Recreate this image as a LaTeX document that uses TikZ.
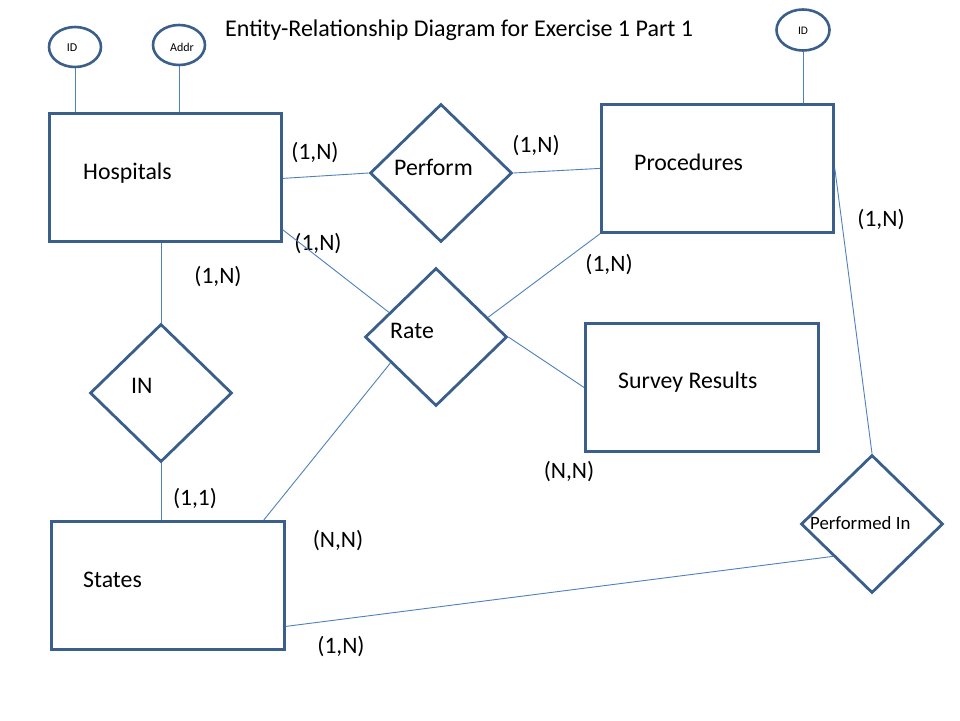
\documentclass[tikz,border=0pt]{standalone}
\usepackage{fontspec}
\setmainfont{Carlito}
\usetikzlibrary{shapes.geometric,calc}
\definecolor{outl}{HTML}{3A5F8B}
\definecolor{conn}{HTML}{4F81BD}
\tikzset{
  entity/.style={draw=outl,line width=2.8pt,rectangle,inner sep=0pt,anchor=north west},
  relation/.style={draw=outl,line width=2.8pt,diamond,inner sep=0pt,minimum width=142pt,minimum height=138pt},
  attr/.style={draw=outl,line width=2.6pt,ellipse,inner sep=0pt},
  link/.style={draw=conn,line width=0.9pt},
  lbl/.style={inner sep=0pt,font=\fontsize{23.8}{26}\selectfont},
  card/.style={inner sep=0pt,font=\fontsize{23.5}{26}\selectfont},
  small/.style={inner sep=0pt,font=\fontsize{12}{14}\selectfont},
}
\begin{document}
\begin{tikzpicture}[x=1pt,y=-1pt]
\useasboundingbox[fill=white] (0,0) rectangle (960,720);
% title
\node[inner sep=0pt,font=\fontsize{24}{27}\selectfont,anchor=base west] (title) at (225,36) {Entity-Relationship Diagram for Exercise 1 Part 1};
% entities
\node[entity,minimum width=232pt,minimum height=128pt] (hosp) at (48,112) {};
\node[entity,minimum width=232pt,minimum height=128pt] (proc) at (600,103) {};
\node[entity,minimum width=233pt,minimum height=128pt] (surv) at (584,322) {};
\node[entity,minimum width=233pt,minimum height=128pt] (stat) at (50,520) {};
% relationships
\node[relation] (perf) at (441,173) {};
\node[relation] (rate) at (436,337) {};
\node[relation] (inrel) at (161,393) {};
\node[relation] (pin) at (872,524) {};
% attributes
\node[attr,minimum width=52pt,minimum height=40pt] (id1) at (75,47) {};
\node[attr,minimum width=52pt,minimum height=40pt] (addr) at (179,45) {};
\node[attr,minimum width=53pt,minimum height=41pt] (id2) at (803,30) {};
% texts
\node[lbl,anchor=base west] (hospT) at (83,179) {Hospitals};
\node[lbl,anchor=base west] (procT) at (634,170) {Procedures};
\node[lbl,anchor=base west] (survT) at (618,388) {Survey Results};
\node[lbl,anchor=base west] (statT) at (83,587) {States};
\node[lbl,anchor=base west] (perfT) at (394,175) {Perform};
\node[lbl,anchor=base west] (rateT) at (390,338) {Rate};
\node[lbl,anchor=base west] (inT) at (131,393) {IN};
\node[inner sep=0pt,font=\fontsize{18.8}{22}\selectfont,anchor=base west] (pinT) at (810,529) {Performed In};
\node[small] (id1T) at (72,48) {ID};
\node[small] (addrT) at (182,47) {Addr};
\node[small,font=\fontsize{11.5}{13}\selectfont] (id2T) at (803,31) {ID};
% cardinalities
\node[card] (c1) at (315,153) {(1,N)};
\node[card] (c2) at (318,244) {(1,N)};
\node[card] (c3) at (536,146) {(1,N)};
\node[card] (c4) at (881,220) {(1,N)};
\node[card] (c5) at (218,277) {(1,N)};
\node[card] (c6) at (609,265) {(1,N)};
\node[card] (c7) at (569,472) {(N,N)};
\node[card] (c8) at (195,499) {(1,1)};
\node[card] (c9) at (338,541) {(N,N)};
\node[card] (c10) at (341,647) {(1,N)};
% connectors
\draw[link] (id1.south) -- (id1.south |- hosp.north);
\draw[link] (addr.south) -- (addr.south |- hosp.north);
\draw[link] (id2.south) -- (id2.south |- proc.north);
\draw[link] ([yshift=-1pt]hosp.east) -- (perf.west);
\draw[link] (perf.east) -- (proc.west);
\draw[link] ([yshift=13pt]hosp.south east) -- ($(rate.west)!0.35!(rate.north)$);
\draw[link] (proc.south west) -- ($(rate.north)!0.72!(rate.east)$);
\draw[link] (rate.east) -- (surv.west);
\draw[link] ([xshift=-22pt]stat.north east) -- ($(rate.west)!0.37!(rate.south)$);
\draw[link] (inrel.north |- hosp.south) -- (inrel.north);
\draw[link] (inrel.south) -- (inrel.south |- stat.north);
\draw[link] (proc.east) -- (pin.north);
\draw[link] ([yshift=-41pt]stat.east) -- ($(pin.west)!0.46!(pin.south)$);
\end{tikzpicture}
\end{document}
